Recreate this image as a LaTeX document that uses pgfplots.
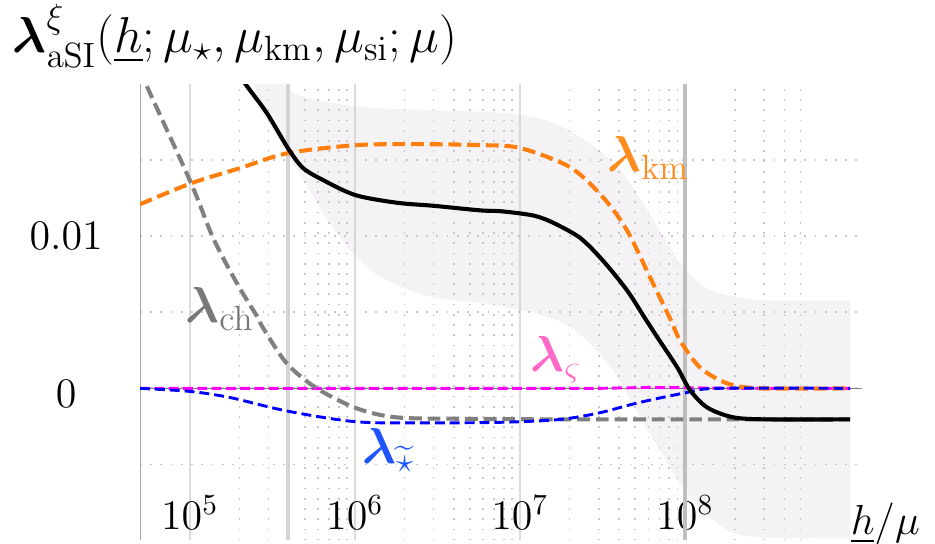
\documentclass[border=0pt]{standalone}
\usepackage{amsmath}
\usepackage{pgfplots}
\pgfplotsset{compat=1.18}
\usepgfplotslibrary{fillbetween}
\definecolor{cOrange}{RGB}{255,127,14}
\definecolor{cOrangeL}{RGB}{255,140,30}
\definecolor{cGray}{RGB}{128,128,128}
\definecolor{cGrayL}{RGB}{120,120,120}
\definecolor{cBlue}{RGB}{0,0,255}
\definecolor{cBlueL}{RGB}{30,85,255}
\definecolor{cMag}{RGB}{255,0,255}
\definecolor{cPink}{RGB}{255,105,200}
\definecolor{cBand}{RGB}{205,188,212}
\newcommand{\bigtxt}{\fontsize{16.6}{20}\selectfont}
\newcommand{\titletxt}{\fontsize{18}{22}\selectfont}
\begin{document}
\begin{tikzpicture}
\begin{axis}[
  scale only axis,
  width=247.3pt, height=156.3pt,
  xmode=log, log basis x=10,
  xmin=5e4, xmax=1.183e9,
  ymin=-0.01, ymax=0.02,
  axis line style={draw=none},
  tick style={draw=none},
  major tick length=0pt, minor tick length=0pt,
  xtick={1e5,1e6,1e7,1e8},
  xticklabels={$10^5$,$10^6$,$10^7$,$10^8$},
  minor xtick={2e5,3e5,4e5,5e5,6e5,7e5,8e5,9e5,2e6,3e6,4e6,5e6,6e6,7e6,8e6,9e6,2e7,3e7,4e7,5e7,6e7,7e7,8e7,9e7,2e8,3e8,4e8,5e8},
  ytick={0,0.01},
  yticklabels={\raisebox{-2pt}[9.27pt][0pt]{$0$},$0.01$},
  scaled y ticks=false,
  minor ytick={-0.005,0.005,0.015},
  xmajorgrids, xminorgrids, ymajorgrids, yminorgrids,
  major x grid style={draw={rgb,255:red,220;green,220;blue,220}, line width=0.55pt, solid},
  minor x grid style={draw={rgb,255:red,200;green,200;blue,200}, line width=0.6pt, dash pattern=on 0.6pt off 2.9pt},
  major y grid style={draw={rgb,255:red,200;green,200;blue,200}, line width=0.6pt, dash pattern=on 0.6pt off 2.9pt},
  minor y grid style={draw={rgb,255:red,200;green,200;blue,200}, line width=0.6pt, dash pattern=on 0.6pt off 2.9pt},
  tick label style={font=\Large},
  xticklabel style={anchor=base, yshift=3.6pt},
  yticklabel style={anchor=center, xshift=-25.3pt},
  clip=true,
]
% uncertainty band
\addplot[name path=up, draw=none, forget plot, smooth] coordinates {
(2.48e5,0.0215) (3.62e5,0.0200) (4.84e5,0.01918) (1.03e6,0.01852) (2.5e6,0.01830) (5.73e6,0.01819) (1e7,0.01799) (1.58e7,0.01747) (2.55e7,0.01622) (4.04e7,0.01437) (6.40e7,0.01109) (9.73e7,0.00799) (1.42e8,0.00648) (2.58e8,0.00582) (5e8,0.00577) (1e9,0.00576)};
\addplot[name path=lo, draw=none, forget plot, smooth] coordinates {
(2.48e5,0.0200) (2.77e5,0.01813) (4.04e5,0.01523) (5.89e5,0.01220) (8.95e5,0.00931) (1.42e6,0.00734) (2.85e6,0.00602) (5.73e6,0.00563) (1.20e7,0.00497) (1.93e7,0.00418) (2.77e7,0.00273) (3.87e7,0.00076) (5.34e7,-0.00188) (7.05e7,-0.00405) (9.33e7,-0.00622) (1.23e8,-0.00780) (1.80e8,-0.00931) (2.58e8,-0.00977) (5e8,-0.00983) (1e9,-0.00984)};
\addplot[fill=cBand, fill opacity=0.2, draw=none, forget plot] fill between[of=up and lo];
% marker lines
\addplot[draw={rgb,255:red,165;green,165;blue,165}, line width=0.75pt, forget plot] coordinates {(5e4,-0.01) (5e4,0.02)};
\addplot[draw={rgb,255:red,212;green,212;blue,212}, line width=1.2pt, forget plot] coordinates {(3.95e5,-0.01) (3.95e5,0.02)};
\addplot[draw={rgb,255:red,190;green,190;blue,190}, line width=1.1pt, forget plot] coordinates {(1e8,-0.01) (1e8,0.02)};
\addplot[draw=cGray, line width=0.5pt, forget plot] coordinates {(5e4,0) (1.183e9,0)};
% curves
\addplot[cMag, line width=1.0pt, dash pattern=on 3.4pt off 1.5pt] coordinates {(5e4,0) (3e7,0) (6e7,0.00006) (1e8,0.00004) (2e8,0) (1e9,0)};
\addplot[cGray, line width=1.4pt, dash pattern=on 4.4pt off 2pt, smooth] coordinates {
(5e4,0.0210) (5.48e4,0.0199) (1.02e5,0.01348) (1.38e5,0.00993) (1.93e5,0.00691) (2.58e5,0.00467) (2.77e5,0.00401) (3.87e5,0.00164) (5.89e5,0.0) (1.03e6,-0.00132) (1.80e6,-0.00191) (4.52e6,-0.00200) (2e7,-0.00204) (1e9,-0.00204)};
\addplot[cOrange, line width=1.4pt, dash pattern=on 4.4pt off 2pt, smooth] coordinates {
(5e4,0.0121) (1.02e5,0.01348) (2.01e5,0.01447) (3.93e5,0.01546) (1.03e6,0.01599) (2.5e6,0.01605) (5.73e6,0.01599) (1e7,0.01580) (2.01e7,0.01454) (3.18e7,0.01257) (4.45e7,0.01039) (6.14e7,0.0073) (8.11e7,0.0046) (9.33e7,0.00316) (1.23e8,0.00138) (1.80e8,0.00033) (2.85e8,0.0) (1e9,0)};
\addplot[cBlue, line width=1.0pt, dash pattern=on 3.4pt off 1.7pt, smooth] coordinates {
(5e4,0) (1e5,-0.0002) (1.75e5,-0.0006) (3.93e5,-0.0015) (1.03e6,-0.0022) (2.85e6,-0.00227) (7e6,-0.00224) (1.3e7,-0.00214) (1.93e7,-0.00199) (3.06e7,-0.0016) (5.34e7,-0.00092) (1e8,-0.0003) (1.56e8,0) (1e9,0)};
\addplot[black, line width=1.4pt, smooth] coordinates {
(2.01e5,0.0206) (2.21e5,0.0199) (2.93e5,0.0181) (3.93e5,0.0158) (4.84e5,0.0145) (6.40e5,0.0137) (1.01e6,0.0127) (1.80e6,0.0122) (3e6,0.0120) (5.73e6,0.0117) (7.5e6,0.01165) (1e7,0.0115) (1.25e7,0.01132) (1.58e7,0.0109) (2.31e7,0.0099) (3.18e7,0.0084) (4.45e7,0.00645) (5.73e7,0.0046) (6.76e7,0.0034) (8.95e7,0.0014) (1.07e8,-0.0001) (1.36e8,-0.00125) (1.95e8,-0.0019) (3.14e8,-0.00204) (1e9,-0.00204)};
\end{axis}
% annotations (picture coordinates, axis south west at origin)
\node[anchor=base west, inner sep=0pt, font=\titletxt] at (-43.8pt,166.95pt) {$\boldsymbol{\lambda}^{\xi}_{\mathrm{aSI}}(\underline{h};\mu_{\star},\mu_{\mathrm{km}},\mu_{\mathrm{si}};\mu)$};
\node[anchor=base west, inner sep=0pt, font=\Large] at (243.2pt,1.9pt) {$\underline{h}/\mu$};
\node[anchor=base west, inner sep=0pt, font=\bigtxt, text=cGrayL] at (15.4pt,74.5pt) {$\boldsymbol{\lambda}_{\mathrm{ch}}$};
\node[anchor=base west, inner sep=0pt, font=\bigtxt, text=cOrangeL] at (159.9pt,126.2pt) {$\boldsymbol{\lambda}_{\mathrm{km}}$};
\node[anchor=base west, inner sep=0pt, font=\bigtxt, text=cPink] at (133.6pt,57.8pt) {$\boldsymbol{\lambda}_{\varsigma}$};
\node[anchor=base west, inner sep=0pt, font=\bigtxt, text=cBlueL] at (75.9pt,26.4pt) {$\boldsymbol{\lambda}_{\widetilde{\star}}$};
\pgfresetboundingbox
\path[use as bounding box] (-47.95pt,-1.2pt) rectangle (272.25pt,185.1pt);
\end{tikzpicture}
\end{document}
